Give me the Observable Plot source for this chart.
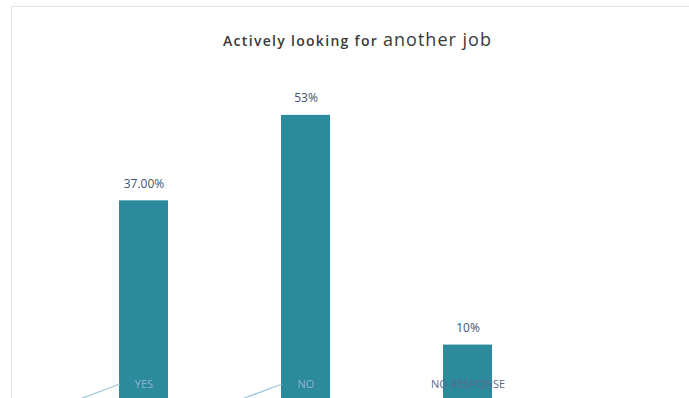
<!DOCTYPE html>
<html>
<head>
<meta charset="utf-8">
<script src="https://cdn.jsdelivr.net/npm/d3@7"></script>
<script src="https://cdn.jsdelivr.net/npm/@observablehq/plot@0.6"></script>
<style>
  html, body { margin: 0; padding: 0; background: #fff; overflow: hidden; }
  #wrap { position: relative; width: 689px; height: 398px; }
  #frame { position: absolute; left: 11px; top: 6px; width: 690px; height: 400px;
           border: 1px solid #e2e2e2; box-sizing: border-box; }
  #title { position: absolute; left: 0; top: 27px; width: 689px; text-align: center;
           font-family: "Open Sans", Lato, sans-serif; color: #3a3a3a; padding-left: 26px; box-sizing: border-box; white-space: nowrap; }
  #title .a { font-size: 14px; font-weight: 600; letter-spacing: 1.3px; }
  #title .b { font-size: 18px; font-weight: 500; letter-spacing: 1px; }
  #chart { position: absolute; left: 0; top: 0; }
</style>
</head>
<body>
<div id="wrap">
  <div id="frame"></div>
  <div id="chart"></div>
  <div id="title"><span class="a">Actively looking for </span><span class="b">another job</span></div>
</div>
<script>
const categories = ["YES", "NO", "NO RESPONSE"];
const values = [37, 53, 10];
const valueLabels = ["37.00%", "53%", "10%"];
const hasLeader = [true, true, false];

const data = categories.map((c, i) => ({cat: c, value: values[i], label: valueLabels[i], leader: hasLeader[i]}));

const barColor = "#2B8A9C";

function leaders(index, scales, values, dims, context) {
  const g = d3.create("svg:g");
  for (const d of data) {
    if (!d.leader) continue;
    const x0 = scales.x(d.cat);
    const yb = scales.y(0);
    g.append("line")
      .attr("x1", x0 - 39).attr("y1", yb + 1)
      .attr("x2", x0 + 1).attr("y2", yb - 14)
      .attr("stroke", "#9cc5da").attr("stroke-width", 1.2);
  }
  return g.node();
}

const plot = Plot.plot({
  width: 689,
  height: 398,
  marginTop: 0,
  marginBottom: 0,
  marginLeft: 0,
  marginRight: 0,
  style: {background: "transparent", fontFamily: "'Open Sans', Lato, sans-serif"},
  x: {domain: categories, range: [62.5, 548.5], paddingInner: 0.6975, paddingOuter: 0.34875, align: 0.5, axis: null},
  y: {domain: [0, 74.5], axis: null},
  marks: [
    Plot.barY(data, {x: "cat", y: "value", fill: barColor}),
    Plot.text(data, {x: "cat", y: "value", text: "label", dy: -17, fill: "#44546A", fontSize: 12}),
    Plot.text(data, {x: "cat", y: 0, text: "cat", dy: -14, fill: d => d.leader ? "#8fb3cf" : "#5b6b8a", fontSize: 11}),
    leaders
  ]
});
document.getElementById("chart").appendChild(plot);
</script>
</body>
</html>
